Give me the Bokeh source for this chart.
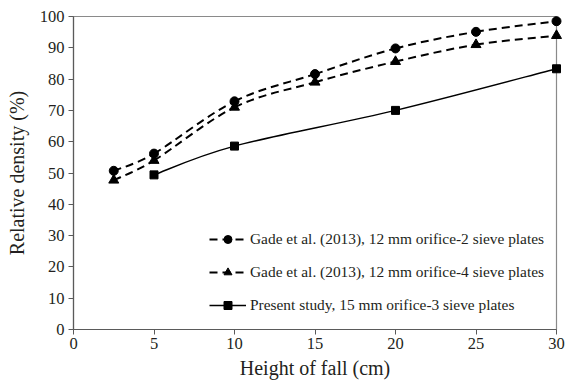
from bokeh.plotting import figure
from bokeh.models import Range1d, FixedTicker, Legend, LegendItem, ColumnDataSource
from bokeh.embed import file_html
from bokeh.resources import INLINE

# Height of fall (cm) and relative density (%)
x_gade = [2.5, 5, 10, 15, 20, 25, 30]
y_gade_2 = [50.7, 56.2, 72.9, 81.6, 89.8, 95.1, 98.5]
y_gade_4 = [47.7, 54.0, 71.0, 79.0, 85.6, 91.0, 93.9]
x_present = [5, 10, 20, 30]
y_present = [49.4, 58.6, 70.0, 83.3]

labels = [
    "Gade et al. (2013), 12 mm orifice-2 sieve plates",
    "Gade et al. (2013), 12 mm orifice-4 sieve plates",
    "Present study, 15 mm orifice-3 sieve plates",
]

SERIF = "Liberation Serif"
INK = "#231f20"


def smooth_segments(xs, ys):
    """Cubic Bezier segments (Catmull-Rom style) through the given points."""
    n = len(xs)
    seg = dict(x0=[], y0=[], x1=[], y1=[], cx0=[], cy0=[], cx1=[], cy1=[])
    for i in range(n - 1):
        xp, yp = (xs[i - 1], ys[i - 1]) if i > 0 else (xs[i], ys[i])
        xn, yn = (xs[i + 2], ys[i + 2]) if i + 2 < n else (xs[i + 1], ys[i + 1])
        seg["x0"].append(xs[i]); seg["y0"].append(ys[i])
        seg["x1"].append(xs[i + 1]); seg["y1"].append(ys[i + 1])
        seg["cx0"].append(xs[i] + (xs[i + 1] - xp) / 6)
        seg["cy0"].append(ys[i] + (ys[i + 1] - yp) / 6)
        seg["cx1"].append(xs[i + 1] - (xn - xs[i]) / 6)
        seg["cy1"].append(ys[i + 1] - (yn - ys[i]) / 6)
    return ColumnDataSource(seg)


p = figure(width=566, height=387, output_backend="svg", toolbar_location=None,
           x_range=Range1d(0, 30), y_range=Range1d(0, 100),
           min_border_left=73, min_border_right=10, min_border_top=16,
           min_border_bottom=58)

p.grid.visible = False
p.outline_line_color = "#8a8a8a"
p.outline_line_width = 1.2
p.background_fill_color = "white"
p.border_fill_color = "white"

for ax in (p.xaxis[0], p.yaxis[0]):
    ax.axis_line_color = "#5a5a5a"
    ax.axis_line_width = 1.2
    ax.major_tick_line_color = "#5a5a5a"
    ax.major_tick_out = 5
    ax.major_tick_in = 0
    ax.minor_tick_line_color = None
    ax.major_label_text_font = SERIF
    ax.major_label_text_font_size = "16.5px"
    ax.major_label_text_color = INK
    ax.axis_label_text_font = SERIF
    ax.axis_label_text_font_size = "20px"
    ax.axis_label_text_font_style = "normal"
    ax.axis_label_text_color = INK

p.xaxis.ticker = FixedTicker(ticks=[0, 5, 10, 15, 20, 25, 30])
p.yaxis.ticker = FixedTicker(ticks=list(range(0, 101, 10)))
p.xaxis.axis_label = "Height of fall (cm)"
p.yaxis.axis_label = "Relative density (%)"
p.xaxis.major_label_standoff = 3
p.yaxis.major_label_standoff = 4
p.xaxis.axis_label_standoff = 5
p.yaxis.axis_label_standoff = 9

series = [
    (x_gade, y_gade_2, "circle", 9, "8 5", 2.0),
    (x_gade, y_gade_4, "triangle", 10, "8 5", 2.0),
    (x_present, y_present, "square", 8, "solid", 1.4),
]

items = []
for (xs, ys, marker, size, dash, lw), label in zip(series, labels):
    curve = p.bezier(x0="x0", y0="y0", x1="x1", y1="y1", cx0="cx0", cy0="cy0",
                     cx1="cx1", cy1="cy1", source=smooth_segments(xs, ys),
                     line_color="black", line_width=lw, line_dash=dash)
    pts = p.scatter(x=xs, y=ys, marker=marker, size=size, fill_color="black",
                    line_color="black", level="overlay")
    items.append(LegendItem(label=label, renderers=[curve, pts]))

legend = Legend(items=items, location=(136, 14), padding=0, margin=0,
                spacing=13, glyph_width=37, glyph_height=20, label_height=20,
                label_standoff=4, border_line_color=None,
                background_fill_alpha=0, label_text_font=SERIF,
                label_text_font_size="15.4px", label_text_color=INK)
p.add_layout(legend, "center")

open("out.html", "w").write(file_html(p, INLINE))
